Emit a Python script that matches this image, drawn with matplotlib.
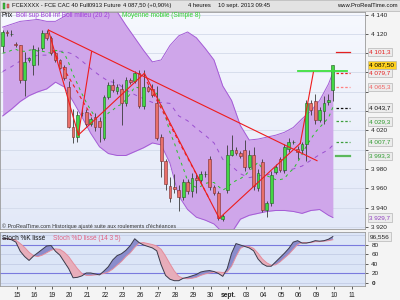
import numpy as np
import matplotlib
matplotlib.use('Agg')
import matplotlib.pyplot as plt
import matplotlib.transforms as mtransforms
from matplotlib.patches import Rectangle

plt.rcParams['font.family'] = ['Liberation Sans', 'DejaVu Sans']

# 4h candles, CAC 40 future, 14 aug -> 10 sept 2013
opens = [4107, 4122, 4120, 4110, 4108, 4072, 4093, 4088, 4103, 4105,
         4121, 4116, 4100, 4093, 4086, 4065, 4024, 4013, 4038, 4039,
         4027, 4034, 4030, 4012, 4055, 4067, 4061, 4063, 4048, 4072,
         4071, 4079, 4045, 4065, 4063, 4048, 4013, 3988, 3962, 3961,
         3958, 3951, 3966, 3957, 3971, 3969, 3975, 3990, 3961, 3955,
         3928, 3958, 3995, 4000, 3997, 4000, 3982, 3995, 3960, 3987,
         3937, 3945, 3977, 3990, 3979, 4001, 4008, 4001, 4000, 4006,
         4048, 4050, 4031, 4040, 4049, 4062]
highs = [4124, 4124, 4124, 4112, 4109, 4101, 4096, 4108, 4106, 4124,
         4124, 4118, 4102, 4094, 4088, 4071, 4042, 4040, 4042, 4042,
         4034, 4038, 4034, 4057, 4070, 4073, 4068, 4068, 4075, 4074,
         4082, 4083, 4083, 4067, 4068, 4066, 4016, 3990, 3972, 3975,
         3963, 3970, 3970, 3976, 3976, 3978, 3978, 3993, 3963, 3957,
         3933, 4005, 4015, 4003, 3999, 4010, 4000, 4003, 3980, 3990,
         3947, 3978, 3985, 3992, 4006, 4012, 4010, 4004, 4008, 4052,
         4052, 4058, 4044, 4056, 4058, 4088]
lows = [4101, 4118, 4118, 4106, 4069, 4056, 4091, 4077, 4088, 4103,
        4114, 4098, 4091, 4084, 4072, 4022, 4007, 4008, 4035, 4025,
        4025, 4019, 4008, 4010, 4053, 4060, 4058, 4026, 4045, 4068,
        4069, 4043, 4042, 4060, 4055, 4010, 3972, 3958, 3946, 3955,
        3936, 3948, 3954, 3951, 3955, 3966, 3972, 3958, 3953, 3927,
        3926, 3955, 3993, 3995, 3991, 3978, 3980, 3958, 3957, 3935,
        3930, 3942, 3975, 3977, 3976, 3998, 4006, 3990, 3997, 3988,
        4036, 4027, 4029, 4027, 4046, 4050]
closes = [4122, 4121, 4120, 4108, 4072, 4091, 4095, 4104, 4103, 4121,
          4116, 4100, 4093, 4085, 4074, 4024, 4013, 4036, 4038, 4027,
          4032, 4024, 4024, 4055, 4067, 4062, 4065, 4048, 4072, 4070,
          4079, 4045, 4065, 4061, 4057, 4012, 3988, 3964, 3950, 3959,
          3951, 3966, 3957, 3971, 3969, 3975, 3975, 3961, 3955, 3929,
          3931, 3994, 4000, 3997, 3993, 3982, 3995, 3962, 3976, 3937,
          3945, 3974, 3982, 3979, 4003, 4008, 4008, 3998, 4006, 4048,
          4041, 4031, 4041, 4048, 4051, 4087.5]

# Bollinger (20,2) read every second candle
band_idx = list(range(0, 76, 2)) + [75]
boll_sup = [4127, 4130, 4133, 4134, 4135, 4133, 4133, 4138, 4148, 4151,
            4152, 4151, 4147, 4143, 4129, 4116, 4103, 4091, 4093, 4108,
            4118, 4122, 4116, 4105, 4093, 4066, 4051, 4025, 4010, 4011,
            4013, 4015, 4018, 4023, 4032, 4040, 4051, 4068, 4079.7]
boll_inf = [4035, 4042, 4050, 4056, 4060, 4063, 4070, 4065, 4050, 4034,
            4017, 4003, 3996, 3994, 3994, 3998, 4002, 4007, 4005, 3986,
            3952, 3938, 3930, 3927, 3923, 3914, 3914, 3928, 3932, 3934,
            3936, 3937, 3937, 3936, 3934, 3937, 3938, 3932, 3929.7]
boll_mid = [4081, 4086, 4092, 4095, 4098, 4098, 4102, 4102, 4099, 4092,
            4084, 4077, 4071, 4069, 4062, 4057, 4053, 4049, 4049, 4048,
            4035, 4030, 4022, 4015, 4007, 3990, 3983, 3975, 3971, 3973,
            3974, 3976, 3978, 3980, 3983, 3989, 3995, 4000, 4004.7]

# moyenne mobile simple 8
ma8 = [4100, 4101, 4103, 4104, 4102, 4102, 4103, 4104, 4102, 4102,
       4101, 4100, 4103, 4102, 4100, 4090, 4078, 4068, 4058, 4049,
       4041, 4034, 4027, 4031, 4038, 4041, 4045, 4047, 4052, 4058,
       4065, 4064, 4063, 4063, 4062, 4058, 4047, 4034, 4018, 4007,
       3993, 3981, 3968, 3963, 3961, 3962, 3965, 3966, 3966, 3962,
       3958, 3961, 3965, 3968, 3970, 3973, 3978, 3982, 3987, 3980,
       3973, 3971, 3969, 3969, 3970, 3976, 3980, 3987, 3995, 4004,
       4011, 4018, 4023, 4028, 4033, 4044]

# stochastique lissé (14 3 5)
stoch_k = [93, 92, 90, 85, 66, 55, 47, 56, 63, 70,
           77, 78, 66, 58, 44, 30, 11, 12, 15, 21,
           21, 19, 17, 25, 34, 48, 57, 61, 68, 78,
           92, 84, 79, 76, 73, 67, 38, 16, 8, 5,
           5, 10, 12, 15, 18, 23, 25, 26, 24, 20,
           14, 30, 62, 82, 79, 76, 73, 67, 50, 40,
           35, 35, 44, 53, 62, 72, 85, 88, 83, 83,
           85, 88, 87, 88, 91, 96.556]
stoch_d = [92, 92, 91, 89, 82, 74, 64, 57, 55, 58,
           63, 68, 71, 70, 64, 55, 42, 30, 20, 16,
           16, 17, 18, 20, 23, 29, 37, 45, 55, 63,
           74, 83, 84, 82, 80, 77, 70, 56, 40, 25,
           14, 10, 9, 10, 12, 16, 19, 21, 23, 23,
           22, 23, 35, 55, 72, 77, 76, 72, 62, 50,
           42, 37, 38, 44, 52, 60, 70, 80, 84, 84,
           84, 86, 86, 87, 88, 90]

day_labels = ['15', '16', '19', '20', '21', '22', '23', '26', '27', '28',
              '29', '30', 'sept.', '03', '04', '05', '06', '09', '10', '11']
day_first_candle = [3, 7, 11, 15, 19, 23, 27, 31, 35, 39,
                    43, 47, 51, 55, 59, 63, 67, 71, 75, 79]

# lignes tracées (indice bougie, prix)
trend_lines = [((10.4, 4124), (71.4, 3988.6)),
               ((10.4, 4124), (17.2, 4015.2)),
               ((17.2, 4015.2), (20.2, 4101.6)),
               ((17.2, 4015.2), (32.2, 4079.2)),
               ((32.2, 4079.2), (49.2, 3928.9)),
               ((49.2, 3928.9), (67.6, 4006.6)),
               ((67.6, 4006.6), (70.6, 4080.8))]
dashed_lines = [((11.4, 4103.3), (20.3, 4033.9)),
                ((32.8, 4070.2), (47.1, 3947.9))]
green_level = (4081.6, 67.1, 78.2)

pivots = [4101.3, 4079.7, 4065.3, 4043.7, 4029.3, 4007.7, 3993.3]
pivot_colors = ['#e42020', '#e42020', '#ff8080', '#111111', '#3d9e3d', '#3d9e3d', '#5cb85c']
pivot_styles = ['-', (0, (2, 1.5)), (0, (2, 1.5)), (0, (2, 1.5)), (0, (2, 1.5)), (0, (2, 1.5)), '-']
pivot_widths = [0.9, 0.9, 0.9, 0.9, 0.9, 0.9, 1.6]

value_tags = [(4101.3, '4 101,3', '#e42020', '#ececec'),
              (4087.5, '4 087,50', '#000000', '#ffd21e'),
              (4079.7, '4 079,7', '#e42020', '#ececec'),
              (4065.3, '4 065,3', '#f06060', '#ececec'),
              (4043.7, '4 043,7', '#111111', '#ececec'),
              (4029.3, '4 029,3', '#2f9a2f', '#ececec'),
              (4007.7, '4 007,7', '#2f9a2f', '#ececec'),
              (3993.3, '3 993,3', '#2f9a2f', '#ececec'),
              (3929.7, '3 929,7', '#9040c0', '#ececec')]
price_ticks = list(range(3920, 4141, 20))
hidden_ticks = [4000, 4040, 4060, 4080, 4100]  # sous les étiquettes

idx = np.arange(len(closes))
o = np.array(opens); c = np.array(closes)
h = np.array(highs); l = np.array(lows)

fig = plt.figure(figsize=(4, 3), dpi=100, facecolor='#f4f4f4')
W, H = 400.0, 300.0
ax = fig.add_axes([0, 1 - 229 / H, 365 / W, (229 - 12) / H])
ax2 = fig.add_axes([0, 1 - 286 / H, 365 / W, (286 - 232) / H])

xl = (-0.6, 82.3)
ax.set_xlim(*xl)
ax.set_ylim(3917.8, 4142.7)
ax.set_facecolor('#eef2fb')
grad = np.linspace(0, 1, 100).reshape(-1, 1)
ax.imshow(grad, extent=[xl[0], xl[1], 3917.8, 4142.7], aspect='auto',
          cmap=matplotlib.colors.LinearSegmentedColormap.from_list('g', ['#f6f8fe', '#e3e9f8']),
          zorder=0, origin='upper')
for p in price_ticks:
    ax.axhline(p, color='#d3daea', lw=0.6, zorder=0.5)

ax.fill_between(band_idx, boll_inf, boll_sup, color='#cfa6ea', zorder=1, lw=0)
ax.plot(band_idx, boll_sup, color='#a45bd6', lw=0.7, zorder=1.2)
ax.plot(band_idx, boll_inf, color='#a45bd6', lw=0.7, zorder=1.2)
ax.plot(band_idx, boll_mid, color='#9a4fd0', lw=0.7, ls=(0, (4, 5)), zorder=1.3)
ax.plot(idx, ma8, color='#27c427', lw=0.7, ls=(0, (3, 4)), zorder=1.3)

# bougies
up = c >= o
ax.vlines(idx, l, h, color='#3a3a3a', lw=0.6, zorder=2)
ax.bar(idx[up], (c - o)[up], bottom=o[up], width=0.62, color='#43d843',
       edgecolor='#1f5f1f', lw=0.4, zorder=3)
ax.bar(idx[~up], (o - c)[~up], bottom=c[~up], width=0.62, color='#e8706a',
       edgecolor='#7a2a2a', lw=0.4, zorder=3)

for (x0, y0), (x1, y1) in trend_lines:
    ax.plot([x0, x1], [y0, y1], color='#ee1c1c', lw=0.8, zorder=4)
for (x0, y0), (x1, y1) in dashed_lines:
    ax.plot([x0, x1], [y0, y1], color='#ee1c1c', lw=0.8, ls=(0, (3, 3)), zorder=4)
ax.plot([green_level[1], green_level[2]], [green_level[0]] * 2, color='#3ee03e', lw=1.3, zorder=4)

for p, col, st, w in zip(pivots, pivot_colors, pivot_styles, pivot_widths):
    ax.plot([75.6, 78.9], [p, p], color=col, ls=st, lw=w, zorder=4)

ax.yaxis.tick_right()
ax.set_yticks(price_ticks)
ax.set_yticklabels(['' if v in hidden_ticks else f'{v // 1000} {v % 1000:03d}' for v in price_ticks])
ax.tick_params(axis='y', length=2.5, width=0.5, pad=2, labelsize=4.6, colors='#222222')
ax.tick_params(axis='x', bottom=False, labelbottom=False)
for s in ax.spines.values():
    s.set_color('#9a9a9a'); s.set_linewidth(0.6)

tr = mtransforms.blended_transform_factory(ax.transAxes, ax.transData)
for v, t, tc, fc in value_tags:
    ax.text(1.012, v, t, transform=tr, ha='left', va='center', fontsize=4.6, color=tc,
            zorder=10, clip_on=False,
            bbox=dict(boxstyle='square,pad=0.25', fc=fc, ec='#a8a8a8', lw=0.4))

fig.text(2 / W, 1 - 15.5 / H, 'Prix', fontsize=4.7, color='#111111', va='center')
fig.text(16 / W, 1 - 15.5 / H, 'Boll sup Boll inf Boll milieu (20 2)', fontsize=4.7,
         color='#a040d8', va='center')
fig.text(122 / W, 1 - 15.5 / H, 'Moyenne mobile (Simple 8)', fontsize=4.7,
         color='#30d030', va='center')
fig.text(2 / W, 1 - 226.5 / H, "\u00a9 ProRealTime.com Historique ajust\u00e9 suite aux roulements d'\u00e9ch\u00e9ances",
         fontsize=3.9, color='#333333', va='center')

# stochastique
ax2.set_xlim(*xl)
ax2.set_ylim(-6, 106)
ax2.set_facecolor('#dce5f7')
for v in (0, 40, 60, 100):
    ax2.axhline(v, color='#c3cde6', lw=0.6, zorder=0.5)
ax2.axhline(20, color='#7a7ade', lw=0.8, zorder=1)
ax2.axhline(80, color='#7a7ade', lw=0.8, zorder=1)
k = np.array(stoch_k); d = np.array(stoch_d)
ax2.fill_between(idx, k, d, where=k >= d, interpolate=True, color='#8a8ccc', lw=0, zorder=2)
ax2.fill_between(idx, k, d, where=k < d, interpolate=True, color='#e7adba', lw=0, zorder=2)
ax2.plot(idx, d, color='#e58c9c', lw=0.7, zorder=3)
ax2.plot(idx, k, color='#3a3a4a', lw=0.7, zorder=3)
ax2.yaxis.tick_right()
ax2.set_yticks([0, 20, 40, 60, 80])
ax2.set_yticklabels(['0', '20', '40', '60', '80'])
ax2.get_yticklabels()[0].set_fontweight('bold')
ax2.tick_params(axis='y', length=2.5, width=0.5, pad=2, labelsize=4.6, colors='#222222')
ax2.set_xticks([i + 0.25 for i in day_first_candle])
ax2.set_xticklabels(day_labels)
ax2.get_xticklabels()[12].set_fontweight('bold')
ax2.tick_params(axis='x', length=2, width=0.5, pad=2.5, labelsize=4.8, colors='#222222')
for s in ax2.spines.values():
    s.set_color('#9a9a9a'); s.set_linewidth(0.6)
tr2 = mtransforms.blended_transform_factory(ax2.transAxes, ax2.transData)
ax2.text(1.012, stoch_k[-1], '96,556', transform=tr2, ha='left', va='center', fontsize=4.6,
         color='#222222', zorder=10, clip_on=False,
         bbox=dict(boxstyle='square,pad=0.25', fc='#ececec', ec='#a8a8a8', lw=0.4))
fig.text(2 / W, 1 - 238 / H, 'Stoch %K liss\u00e9', fontsize=4.7, color='#111111', va='center')
fig.text(53 / W, 1 - 238 / H, 'Stoch %D liss\u00e9 (14 3 5)', fontsize=4.7, color='#e06080', va='center')

# bandeau du haut
fig.add_artist(Rectangle((0, 1 - 11 / H), 1, 11 / H, transform=fig.transFigure,
                         fc='#e3e3e3', ec='#b4b4b4', lw=0.5))
fig.add_artist(Rectangle((3 / W, 1 - 9 / H), 2 / W, 6 / H, transform=fig.transFigure,
                         fc='#3ec43e', ec='#1f5f1f', lw=0.3))
fig.add_artist(Rectangle((6.5 / W, 1 - 8 / H), 2 / W, 4 / H, transform=fig.transFigure,
                         fc='#e8706a', ec='#7a2a2a', lw=0.3))
hy = 1 - 5.5 / H
fig.text(12 / W, hy, 'FCEXXXX - FCE CAC 40 Full0913 Future', fontsize=4.2, color='#111111', va='center')
fig.text(123 / W, hy, '4 087,50 (+0,90%)', fontsize=4.2, color='#111111', va='center')
fig.text(188 / W, hy, '4 heures', fontsize=4.2, color='#111111', va='center')
fig.text(218 / W, hy, '10 sept. 2013 09:45', fontsize=4.2, color='#111111', va='center')
fig.text(398 / W, hy, 'www.ProRealTime.com', fontsize=4.2, color='#111111', va='center', ha='right')

fig.savefig('out.png', dpi=100, facecolor=fig.get_facecolor())
